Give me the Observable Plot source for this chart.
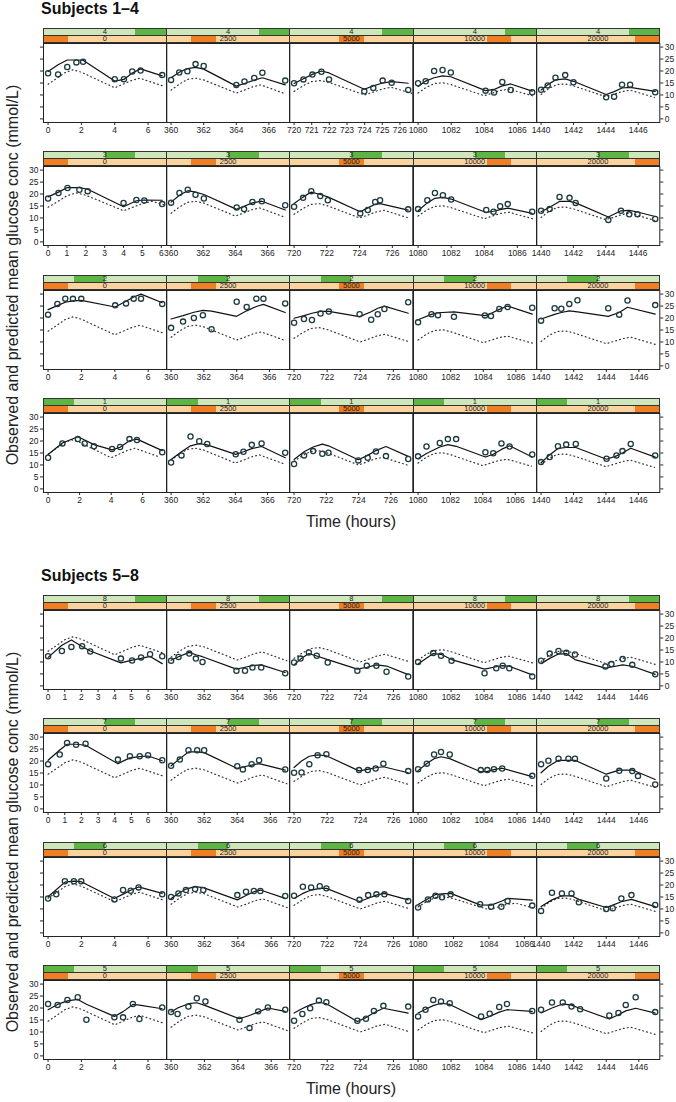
<!DOCTYPE html>
<html><head><meta charset="utf-8">
<script src="https://cdn.jsdelivr.net/npm/d3@7"></script>
<script src="https://cdn.jsdelivr.net/npm/@observablehq/plot@0.6"></script>
<style>
body{margin:0;background:#fff;font-family:"Liberation Sans",Arial,Helvetica,sans-serif;}
#chart{position:relative;width:676px;height:1102px;overflow:hidden;background:#fff;}
.title{position:absolute;font-weight:bold;font-size:16px;line-height:16px;color:#111;white-space:nowrap;}
.strip{position:absolute;box-sizing:border-box;border:1px solid #333;overflow:hidden;}
.strip .lvl{position:absolute;top:0;bottom:0;}
.strip span{position:absolute;left:0;right:0;top:0;text-align:center;font-size:7.5px;line-height:6.5px;color:#222;}
.panel{position:absolute;}
.lab{position:absolute;font-size:16px;color:#222;white-space:nowrap;transform:translate(-50%,-50%);}
</style></head><body><div id="chart"></div>
<script>
// ---------- categories / tick labels ----------
const doses = [0, 2500, 5000, 10000, 20000];
const doseOffsets = [0, 360, 720, 1080, 1440];
const groupTitles = ["Subjects 1\u20134", "Subjects 5\u20138"];
const groupSubjects = [[4, 3, 2, 1], [8, 7, 6, 5]];
const yTicks = [0, 5, 10, 15, 20, 25, 30];
const fineTickPanels = ["3:0", "4:5000", "8:0", "7:0"];
const fineTickMaxHour = 6;
const xLabel = "Time (hours)";
const yLabel = "Observed and predicted mean glucose conc (mmol/L)";

// ---------- population prediction (dotted) per dose ----------
const predTime = [0, 0.5, 1, 1.5, 2, 4, 4.5, 5, 5.5, 7];
const pred0     = [14.5, 16.8, 19.3, 20.5, 19.5, 13.0, 14.5, 16.0, 17.0, 13.5];
const pred2500  = [12.0, 14.5, 16.5, 17.0, 16.3, 10.8, 12.0, 13.4, 14.2, 10.5];
const pred5000  = [11.5, 13.8, 15.6, 16.0, 15.2, 10.0, 11.2, 12.5, 13.2, 10.0];
const pred10000 = [10.8, 13.2, 14.8, 15.1, 14.3, 9.7, 10.8, 11.9, 12.4, 9.5];
const pred20000 = [10.2, 12.8, 14.4, 14.6, 13.8, 9.3, 10.3, 11.4, 12.0, 9.0];

// ---------- per subject: times (h after dose-period start), observed, individual prediction ----------
const s4Time = [[0,0.6,1.15,1.7,2.1,4.0,4.55,5.05,5.55,6.85],[0,0.5,1.0,1.5,2.0,4.0,4.5,5.1,5.6,7.0],[0,0.53,1.04,1.55,1.98,3.98,4.49,5.02,5.53,6.47],[0,0.46,0.97,1.48,1.98,4.08,4.59,5.09,5.6,6.9],[0,0.41,0.89,1.49,2.0,4.02,4.51,5.0,5.5,7.05]];
const s4Obs  = [[19.1,18.6,21.7,23.6,23.9,16.6,16.6,19.8,20.2,18.3],[16.3,19.4,19.9,22.9,22.1,14.2,15.6,17.1,19.3,16.0],[14.9,16.5,18.5,19.7,16.5,11.5,12.9,16.0,15.1,12.1],[14.9,15.7,20.0,20.4,19.4,11.8,11.0,15.4,12.1,11.1],[12.2,14.0,17.2,18.3,15.3,9.0,9.3,14.3,14.3,11.1]];
const s4Ipred= [[19.8,22.6,24.6,24.6,24.5,15.8,16.5,19.2,20.9,18.0],[17.2,19.5,21.0,21.5,20.8,13.7,14.8,16.2,17.2,14.2],[14.8,16.8,18.6,20.0,19.2,12.4,13.8,15.0,15.6,14.9],[13.5,15.8,17.2,18.0,17.6,11.8,12.3,13.8,14.6,11.6],[12.1,14.3,16.3,16.7,15.7,10.2,11.4,12.9,13.2,11.5]];

const s3Time = [[0,0.55,1.03,1.66,2.1,4.0,4.68,5.1,6.05],[0,0.52,1.04,1.52,2.04,4.08,4.54,5.06,5.65,7.1],[0,0.55,1.05,1.6,2.06,4.04,4.5,4.95,5.25,6.97],[0,0.56,1.02,1.5,2.0,4.12,4.56,4.96,5.42,6.9],[0,0.53,1.14,1.76,2.14,4.16,4.94,5.45,5.96,7.06]];
const s3Obs  = [[18.1,20.4,22.5,21.8,21.2,16.3,17.5,17.3,15.8],[16.4,20.4,21.8,19.7,18.1,14.4,13.7,16.7,17.0,15.3],[14.7,18.4,21.2,19.2,17.4,11.9,13.3,16.7,17.4,13.6],[13.7,17.4,20.4,19.5,17.7,13.3,12.6,14.9,15.8,12.6],[13.0,13.7,18.8,18.4,16.3,9.2,13.0,11.5,11.6,9.6]];
const s3Ipred= [[18.8,20.8,22.7,22.7,22.0,14.7,17.2,17.5,17.4],[16.6,19.5,21.4,20.8,19.8,13.6,14.9,16.3,17.0,13.3],[16.0,18.7,20.8,19.8,18.8,12.6,14.2,15.7,16.0,13.3],[13.0,16.3,18.2,18.6,17.9,12.3,12.8,13.5,14.1,11.9],[12.6,14.5,16.9,16.9,16.3,10.4,13.0,13.2,12.5,10.6]];

const s2Time = [[0,0.56,1.03,1.49,1.99,4.02,4.67,5.13,5.57,6.84],[0,0.73,1.39,1.94,2.47,4.0,4.61,5.2,5.63,6.96],[0,0.6,1.08,1.6,2.1,3.96,4.66,5.06,5.46,6.9],[0,0.82,1.22,2.2,4.1,4.47,4.98,5.49,7.0],[0,0.83,1.24,1.73,2.23,4.12,4.79,5.3,7.0]];
const s2Obs  = [[21.4,25.9,28.1,28.0,28.0,25.3,26.1,28.1,28.1,25.9],[15.9,18.5,20.0,21.2,15.3,26.8,24.6,28.1,28.1,26.1],[18.0,19.6,19.2,21.9,22.7,21.6,19.3,21.6,23.8,26.6],[18.2,21.6,21.2,20.5,21.1,20.8,23.8,24.6,24.3],[18.9,24.1,23.9,25.9,27.4,24.1,21.4,27.3,25.4]];
const s2Ipred= [[23.5,25.2,26.6,27.2,27.4,24.6,27.0,28.8,30.0,26.4],[19.6,21.0,22.4,23.2,22.9,20.7,23.0,24.8,25.7,22.3],[19.9,21.0,22.0,22.8,22.8,20.6,22.6,24.1,25.0,22.0],[19.3,21.5,22.2,22.6,21.0,21.9,23.6,25.0,21.6],[19.6,21.5,22.3,23.0,22.6,20.7,22.3,24.5,21.6]];

const s1Time = [[0,0.91,1.89,2.32,2.91,4.06,4.57,5.16,5.64,7.24],[0,0.65,1.21,1.75,2.25,4.02,4.5,5.02,5.63,7.1],[0,0.62,1.18,1.75,2.13,3.98,4.56,5.07,5.69,7.07],[0,0.52,1.34,1.84,2.35,4.16,4.64,5.15,5.65,7.05],[0,0.53,1.04,1.55,2.14,4.04,4.65,5.02,5.53,7.04]];
const s1Obs  = [[13.0,19.0,20.8,19.0,17.8,16.7,17.5,20.8,20.4,15.3],[11.0,14.0,21.9,19.9,18.8,14.5,15.5,18.4,19.0,15.1],[10.4,14.0,15.8,14.7,15.1,11.9,13.0,15.6,13.7,12.5],[13.6,17.7,19.2,20.8,20.8,15.3,14.9,19.0,17.7,14.4],[11.2,13.3,17.8,18.5,18.8,12.6,14.0,15.8,18.8,14.0]];
const s1Ipred= [[14.4,19.2,21.8,20.4,18.5,16.3,17.4,20.1,20.8,16.0],[12.3,15.5,18.0,18.9,18.4,14.4,15.5,16.8,17.7,13.0],[12.3,15.5,17.5,18.7,18.0,12.2,14.0,16.0,17.7,13.6],[12.6,14.8,17.5,18.5,17.8,13.3,14.5,16.5,18.0,13.3],[10.9,14.2,16.9,17.3,17.3,12.4,13.8,15.0,17.0,13.3]];

const s8Time = [[0,0.83,1.4,2.04,2.53,4.37,5.04,5.58,6.12,6.85],[0,0.45,1.1,1.5,1.9,3.95,4.47,4.92,5.45,6.9],[0,0.39,0.89,1.37,2.03,3.82,4.39,4.97,5.58,6.89],[0,0.92,1.39,2.03,4.03,4.74,5.13,5.53,6.92],[0,0.53,1.07,1.55,2.08,3.95,4.32,5.01,5.6,7.01]];
const s8Obs  = [[12.4,14.6,16.3,16.6,14.4,11.4,10.6,11.9,13.2,12.4],[10.5,12.1,13.5,11.4,10.0,6.3,6.3,7.7,7.7,5.3],[9.8,11.4,14.0,12.6,9.8,6.3,8.4,8.4,5.9,3.9],[10.0,13.7,12.6,10.5,5.3,7.4,8.4,7.4,3.9],[10.5,13.5,14.6,13.8,13.1,8.1,9.1,11.2,8.8,4.9]];
const s8Ipred= [[11.9,17.0,19.2,16.5,14.6,9.6,10.8,11.5,12.3,9.3],[10.7,12.2,14.0,13.0,12.2,7.0,7.8,8.5,8.8,5.6],[8.8,11.2,13.5,12.5,11.0,7.0,7.8,8.8,8.3,4.7],[9.1,13.5,13.2,11.0,7.0,8.0,8.5,8.2,4.6],[9.3,11.5,13.3,13.5,11.0,7.4,7.9,8.8,8.2,4.8]];

const s7Time = [[0,0.7,1.14,1.68,2.25,4.19,4.91,5.5,6.0,6.85],[0,0.53,1.05,1.58,2.0,4.0,4.34,4.87,5.32,6.9],[0,0.45,0.92,1.42,1.95,3.92,4.45,4.92,5.39,6.89],[0,0.53,0.97,1.39,1.92,3.8,4.2,4.6,5.1,6.92],[0,0.45,1.07,1.68,2.08,4.0,4.8,5.6,5.95,7.01]];
const s7Obs  = [[18.7,22.7,27.5,26.8,27.2,20.6,22.0,22.0,22.4,20.3],[18.0,20.6,24.5,24.5,24.5,17.8,16.5,18.7,20.3,16.5],[15.1,15.2,18.7,22.4,22.8,16.2,16.2,16.9,18.9,15.8],[16.6,18.9,22.7,23.8,22.7,16.2,16.2,16.6,16.9,13.8],[18.7,20.1,21.0,21.0,21.0,12.7,15.9,15.8,13.7,10.2]];
const s7Ipred= [[20.3,24.6,27.0,27.0,26.6,18.9,21.3,21.8,22.1,20.1],[18.0,21.0,23.8,23.8,23.5,16.9,17.5,18.3,18.9,16.2],[17.3,20.0,22.0,22.6,22.2,15.9,16.5,17.2,17.6,15.1],[16.0,19.0,21.0,21.8,21.0,15.5,15.7,16.4,17.0,13.5],[15.1,17.8,20.3,20.3,20.3,14.5,16.2,16.2,15.3,12.3]];

const s6Time = [[0,0.49,1.01,1.55,1.99,3.98,4.5,4.96,5.43,6.85],[0,0.44,0.89,1.44,1.93,3.97,4.49,4.96,5.35,6.84],[0,0.53,1.03,1.55,1.95,3.95,4.47,4.97,5.45,6.89],[0,0.56,0.98,1.35,1.84,3.5,4.12,4.7,5.05,6.44],[0,0.67,1.28,1.87,2.32,4.0,4.4,4.93,5.55,7.01]];
const s6Obs  = [[14.4,16.1,21.6,21.6,21.6,14.0,17.9,17.6,19.0,16.1],[15.0,16.5,17.9,18.3,17.9,15.8,17.2,17.5,17.5,15.4],[15.5,19.3,19.0,19.5,18.6,13.8,15.8,16.1,16.1,13.3],[10.6,14.0,15.5,14.9,16.1,12.0,10.9,10.9,13.3,11.4],[9.2,16.8,16.5,16.5,12.8,10.0,10.3,14.4,15.8,11.7]];
const s6Ipred= [[15.1,18.0,21.2,21.6,21.4,14.4,16.2,17.8,19.2,16.5],[14.4,16.5,18.3,19.3,18.9,13.8,15.6,17.2,17.9,14.4],[14.4,16.5,17.9,18.6,18.6,13.1,14.5,15.8,16.5,13.8],[11.9,14.3,16.0,16.3,16.5,11.7,11.6,13.2,14.4,13.7],[11.0,13.8,15.5,15.5,14.0,10.6,11.6,13.0,14.0,11.0]];

const s5Time = [[0,0.57,1.16,1.78,2.3,3.98,4.5,5.09,5.48,6.85],[0,0.39,1.04,1.54,2.06,4.1,4.7,5.22,5.8,6.84],[0,0.5,0.97,1.5,1.95,3.82,4.34,4.82,5.39,6.89],[0,0.45,0.92,1.39,1.92,3.82,4.34,4.92,5.39,6.92],[0,0.67,1.33,1.87,2.4,4.19,4.75,5.2,5.81,7.01]];
const s5Obs  = [[21.7,21.3,23.4,24.5,15.1,16.1,16.1,21.7,15.4,20.2],[18.3,17.5,20.6,24.1,22.7,15.1,11.7,18.6,20.2,19.3],[14.7,17.5,19.9,23.1,22.4,14.7,15.5,18.8,20.9,20.6],[16.5,19.3,23.4,22.7,22.0,16.5,17.6,20.4,21.7,18.8],[19.3,22.3,22.3,20.6,19.5,16.9,17.9,21.3,24.5,18.3]];
const s5Ipred= [[19.3,21.5,23.0,23.6,21.6,16.5,18.5,21.5,21.2,19.7],[18.3,20.0,21.8,22.2,21.0,15.5,16.9,18.3,20.0,18.6],[17.9,19.8,21.3,22.4,21.8,14.4,16.0,18.0,19.9,17.9],[17.9,19.5,21.0,22.0,21.5,15.1,16.5,18.3,19.3,18.6],[17.9,20.0,21.7,21.2,19.8,15.4,17.2,18.8,19.9,17.9]];

// ---------- lookup tables built from the arrays above ----------
const timeBySubject  = {1: s1Time, 2: s2Time, 3: s3Time, 4: s4Time, 5: s5Time, 6: s6Time, 7: s7Time, 8: s8Time};
const obsBySubject   = {1: s1Obs, 2: s2Obs, 3: s3Obs, 4: s4Obs, 5: s5Obs, 6: s6Obs, 7: s7Obs, 8: s8Obs};
const ipredBySubject = {1: s1Ipred, 2: s2Ipred, 3: s3Ipred, 4: s4Ipred, 5: s5Ipred, 6: s6Ipred, 7: s7Ipred, 8: s8Ipred};
const predByDose = [pred0, pred2500, pred5000, pred10000, pred20000];

// ---------- layout ----------
const FONT = '"Liberation Sans", Arial, Helvetica, sans-serif';
const PX0 = 42.7, PW = 123.3, PH = 79, STRIP = 15, ROWSTEP = 123.53;
const GROUP_TOP = [27.7, 594.7];
const M = 28;
const greenLight = "#cde7bb", greenDark = "#5db544";
const orangeLight = "#fdd39d", orangeDark = "#ef7f22";

const chart = document.getElementById("chart");

function addDiv(cls, css, html) {
  const d = document.createElement("div");
  d.className = cls;
  Object.assign(d.style, css);
  if (html !== undefined) d.innerHTML = html;
  chart.appendChild(d);
  return d;
}

function addStrip(left, top, light, dark, level, nLevels, text) {
  const s = addDiv("strip", {left: left + "px", top: top + "px", width: (PW + 1) + "px", height: "8px", background: light});
  const l = document.createElement("div");
  l.className = "lvl";
  l.style.left = ((level - 1) / nLevels * 100) + "%";
  l.style.width = (100 / nLevels) + "%";
  l.style.background = dark;
  s.appendChild(l);
  const t = document.createElement("span");
  t.textContent = text;
  s.appendChild(t);
}

groupSubjects.forEach((subjects, g) => {
  const gTop = GROUP_TOP[g];
  addDiv("title", {left: "41px", top: (gTop - 26.8) + "px"}, groupTitles[g]);
  subjects.forEach((s, r) => {
    const stripTop = gTop + r * ROWSTEP;
    const panelTop = stripTop + STRIP;
    const subjLevel = [...subjects].sort((a, b) => a - b).indexOf(s) + 1;
    doses.forEach((dose, c) => {
      const left = PX0 + c * PW;
      addStrip(left, stripTop, greenLight, greenDark, subjLevel, 4, String(s));
      addStrip(left, stripTop + 7, orangeLight, orangeDark, c + 1, doses.length, String(dose));

      const off = doseOffsets[c];
      const tt = timeBySubject[s][c], ov = obsBySubject[s][c], iv = ipredBySubject[s][c];
      const rows = tt.map((t, i) => ({t: off + t, dv: ov[i], ip: iv[i]}));
      const predRows = predTime.map((t, i) => ({t: off + t, v: predByDose[c][i]}));
      const t0 = d3.min(rows, d => d.t), t1 = d3.max(rows, d => d.t);
      const pad = (t1 - t0) * 0.04;
      const lo = t0 - pad, hi = t1 + pad;
      const fine = fineTickPanels.includes(s + ":" + dose);
      const step = fine ? 1 : 2;
      const tickHi = fine ? Math.min(hi, off + fineTickMaxHour) : hi;
      const xt = d3.range(Math.ceil(lo / step) * step, tickHi + 1e-9, step);

      const marks = [
        Plot.line(predRows, {x: "t", y: "v", stroke: "#333", strokeWidth: 1.2, strokeDasharray: "0.9,3.1", clip: true}),
        Plot.line(rows, {x: "t", y: "ip", stroke: "#111", strokeWidth: 1.2}),
        Plot.dot(rows, {x: "t", y: "dv", r: 2.6, stroke: "#1d3940", strokeWidth: 1.3}),
        Plot.frame({stroke: "#222", strokeWidth: 1}),
        Plot.axisX(xt, {anchor: "bottom", tickSize: 3, tickPadding: 1.5, tickFormat: d => String(Math.round(d)), label: null, fontSize: 8.5})
      ];
      const labelsRight = (r % 2 === 0);
      if (c === 0) {
        marks.push(Plot.axisY(yTicks, {anchor: "left", tickSize: 3, tickPadding: 2, label: null, fontSize: 8.5,
          tickFormat: labelsRight ? () => "" : d => String(d)}));
      }
      if (c === doses.length - 1) {
        marks.push(Plot.axisY(yTicks, {anchor: "right", tickSize: 3, tickPadding: 2, label: null, fontSize: 8.5,
          tickFormat: labelsRight ? d => String(d) : () => ""}));
      }
      const svg = Plot.plot({
        width: PW + 2 * M, height: PH + 2 * M,
        marginTop: M, marginBottom: M, marginLeft: M, marginRight: M,
        x: {domain: [lo, hi], axis: null},
        y: {domain: [-1.5, 31.5], axis: null},
        style: {background: "transparent", overflow: "visible", fontFamily: FONT, fontSize: "8.5px", color: "#222"},
        marks
      });
      svg.style.width = (PW + 2 * M) + "px";
      svg.style.maxWidth = "none";
      const wrap = addDiv("panel", {left: (left - M) + "px", top: (panelTop - M) + "px", width: (PW + 2 * M) + "px", height: (PH + 2 * M) + "px"});
      wrap.appendChild(svg);
    });
  });
  const lastPanelBottom = gTop + 3 * ROWSTEP + STRIP + PH;
  addDiv("lab", {left: (PX0 + 2.5 * PW) + "px", top: (lastPanelBottom + 29.5) + "px"}, xLabel);
  addDiv("lab", {left: "13px", top: (gTop + 247.5) + "px", transform: "translate(-50%,-50%) rotate(-90deg)"}, yLabel);
});
</script></body></html>
